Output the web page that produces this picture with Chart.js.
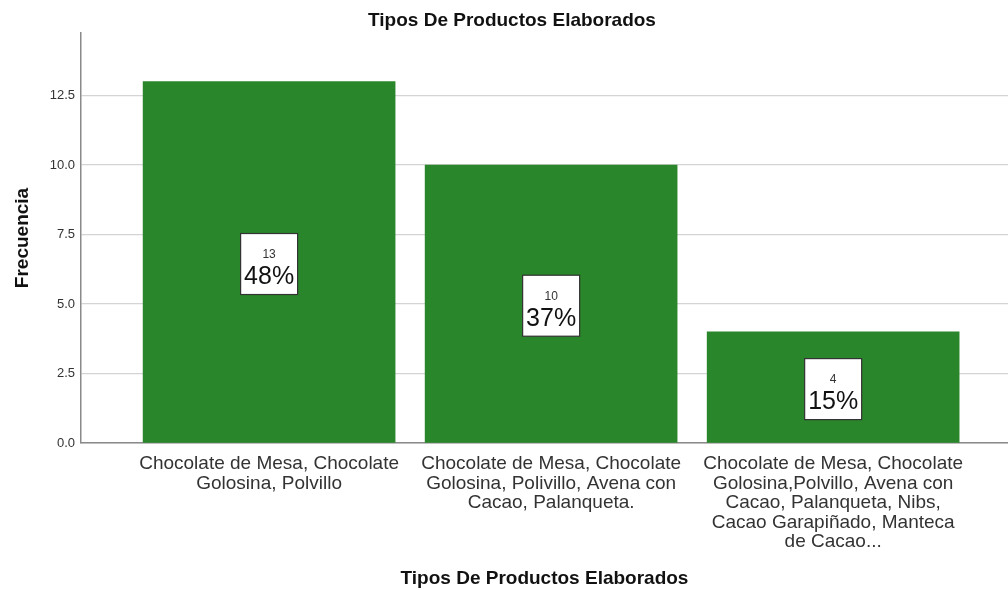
<!DOCTYPE html>
<html>
<head>
<meta charset="utf-8">
<script src="https://cdn.jsdelivr.net/npm/chart.js@4.4.1/dist/chart.umd.min.js"></script>
<style>
  body { margin: 0; background: #fff; }
  canvas { display: block; }
</style>
</head>
<body>
<canvas id="chart" width="1008" height="590"></canvas>
<script>
const categories = [
  ['Chocolate de Mesa, Chocolate', 'Golosina, Polvillo'],
  ['Chocolate de Mesa, Chocolate', 'Golosina, Polivillo, Avena con', 'Cacao, Palanqueta.'],
  ['Chocolate de Mesa, Chocolate', 'Golosina,Polvillo, Avena con', 'Cacao, Palanqueta, Nibs,', 'Cacao Garapiñado, Manteca', 'de Cacao...']
];
const counts = [13, 10, 4];
const percents = ['48%', '37%', '15%'];
const yTicks = [0, 2.5, 5, 7.5, 10, 12.5];

const FONT = "'Liberation Sans', Arial, sans-serif";

// white boxes with count + percentage in the middle of each bar
const barLabels = {
  id: 'barLabels',
  afterDatasetsDraw(chart) {
    const ctx = chart.ctx;
    const meta = chart.getDatasetMeta(0);
    meta.data.forEach((bar, i) => {
      const cx = bar.x;
      const cy = (bar.y + bar.base) / 2 + 2;
      const w = 57, h = 61;
      ctx.save();
      ctx.fillStyle = '#fff';
      ctx.fillRect(cx - w / 2, cy - h / 2, w, h);
      ctx.strokeStyle = '#333';
      ctx.lineWidth = 1.2;
      ctx.strokeRect(cx - w / 2, cy - h / 2, w, h);
      ctx.textAlign = 'center';
      ctx.textBaseline = 'middle';
      ctx.fillStyle = '#333';
      ctx.font = '12px ' + FONT;
      ctx.fillText(String(counts[i]), cx, cy - 9.5);
      ctx.fillStyle = '#111';
      ctx.font = '25px ' + FONT;
      ctx.fillText(percents[i], cx, cy + 13.5);
      ctx.restore();
    });
  }
};

const topTitle = {
  id: 'topTitle',
  afterDraw(chart) {
    const ctx = chart.ctx;
    ctx.save();
    ctx.fillStyle = '#111';
    ctx.font = 'bold 19px ' + FONT;
    ctx.textAlign = 'center';
    ctx.textBaseline = 'middle';
    ctx.fillText('Tipos De Productos Elaborados', 512, 21);
    ctx.restore();
  }
};

new Chart(document.getElementById('chart'), {
  type: 'bar',
  data: {
    datasets: [{
      data: counts.map((v, i) => ({ x: i, y: v })),
      backgroundColor: '#2a862a',
      borderWidth: 0,
      barThickness: 252
    }]
  },
  options: {
    responsive: false,
    animation: false,
    layout: { padding: { top: 33, right: 0, bottom: 0, left: 0 } },
    plugins: {
      legend: { display: false },
      tooltip: { enabled: false }
    },
    scales: {
      x: {
        type: 'linear',
        offset: false,
        min: -0.667,
        max: 2.62,
        afterFit(scale) { scale.height = 147; },
        afterBuildTicks(scale) { scale.ticks = categories.map((c, i) => ({ value: i })); },
        grid: { display: false },
        border: { display: true, color: '#8a8a8a', width: 1.5 },
        ticks: {
          autoSkip: false,
          maxRotation: 0,
          padding: 3,
          color: '#333',
          font: { family: FONT, size: 19, lineHeight: 1.03 },
          callback: (v, i) => categories[i]
        },
        title: {
          display: true,
          text: 'Tipos De Productos Elaborados',
          color: '#111',
          font: { family: FONT, size: 19, weight: 'bold' },
          padding: { top: 0, bottom: 0 }
        }
      },
      y: {
        min: 0,
        max: 14.75,
        afterFit(scale) { scale.width = 81; },
        afterBuildTicks(scale) { scale.ticks = yTicks.map(v => ({ value: v })); },
        grid: { color: '#d4d4d4', lineWidth: 1.2, drawTicks: false },
        border: { display: true, color: '#8a8a8a', width: 1.5 },
        ticks: {
          padding: 6,
          color: '#333',
          font: { family: FONT, size: 13 },
          callback: v => v.toFixed(1)
        },
        title: {
          display: true,
          text: 'Frecuencia',
          color: '#111',
          font: { family: FONT, size: 19, weight: 'bold' },
          padding: { top: 11, bottom: 0 }
        }
      }
    }
  },
  plugins: [barLabels, topTitle]
});
</script>
</body>
</html>
